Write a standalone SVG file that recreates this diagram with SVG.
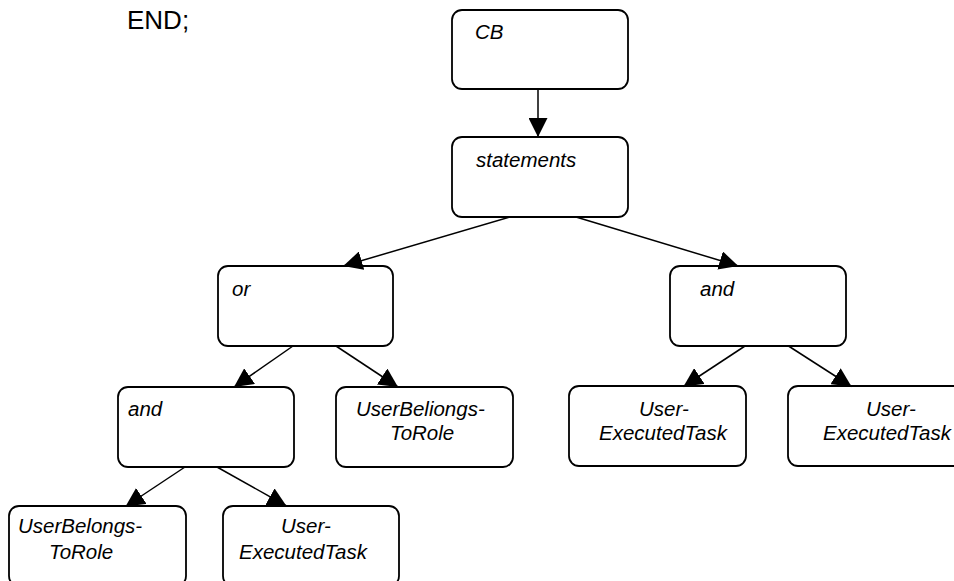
<svg xmlns="http://www.w3.org/2000/svg" width="954" height="581" viewBox="0 0 954 581">
  <style>
    .box { fill: #ffffff; stroke: #000000; stroke-width: 1.8; }
    .lbl { font-family: "Liberation Sans", Arial, sans-serif; font-size: 20.5px; font-style: italic; fill: #000000; }
    .end { font-family: "Liberation Sans", Arial, sans-serif; font-size: 26px; fill: #000000; }
    .edge { stroke: #000000; stroke-width: 1.5; fill: none; marker-end: url(#head); }
  </style>
  <defs>
    <marker id="head" markerUnits="userSpaceOnUse" markerWidth="19" markerHeight="19" viewBox="0 0 19 19" refX="19" refY="9.5" orient="auto">
      <path d="M0,0 L19,9.5 L0,19 Z" fill="#000000"/>
    </marker>
  </defs>
  <rect x="0" y="0" width="954" height="581" fill="#ffffff"/>

  <text class="end" x="127" y="28.5">END;</text>

  <!-- tree nodes -->
  <g id="node-cb">
    <rect class="box" x="452" y="10" width="176" height="79" rx="10"/>
    <text class="lbl" x="475" y="39">CB</text>
  </g>
  <g id="node-statements">
    <rect class="box" x="452" y="137" width="176" height="80" rx="10"/>
    <text class="lbl" x="476" y="166.5">statements</text>
  </g>
  <g id="node-or">
    <rect class="box" x="218" y="266" width="175" height="80" rx="10"/>
    <text class="lbl" x="232" y="295.5">or</text>
  </g>
  <g id="node-and-right">
    <rect class="box" x="670" y="266" width="176" height="80" rx="10"/>
    <text class="lbl" x="700" y="295.5">and</text>
  </g>
  <g id="node-and-left">
    <rect class="box" x="118" y="387" width="176" height="80" rx="10"/>
    <text class="lbl" x="128" y="415.5">and</text>
  </g>
  <g id="node-userbeliongs">
    <rect class="box" x="336" y="387" width="177" height="80" rx="10"/>
    <text class="lbl" x="356" y="416">UserBeliongs-</text>
    <text class="lbl" x="390" y="439.5">ToRole</text>
  </g>
  <g id="node-uet-1">
    <rect class="box" x="569" y="386" width="177" height="80" rx="10"/>
    <text class="lbl" x="639" y="416">User-</text>
    <text class="lbl" x="599" y="439.5">ExecutedTask</text>
  </g>
  <g id="node-uet-2">
    <rect class="box" x="788" y="386" width="177" height="80" rx="10"/>
    <text class="lbl" x="866" y="416">User-</text>
    <text class="lbl" x="823" y="439.5">ExecutedTask</text>
  </g>
  <g id="node-userbelongs">
    <rect class="box" x="9" y="506" width="177" height="80" rx="10"/>
    <text class="lbl" x="18" y="533">UserBelongs-</text>
    <text class="lbl" x="49" y="559">ToRole</text>
  </g>
  <g id="node-uet-3">
    <rect class="box" x="223" y="506" width="176" height="80" rx="10"/>
    <text class="lbl" x="281" y="533">User-</text>
    <text class="lbl" x="239" y="559">ExecutedTask</text>
  </g>

  <!-- parent-to-child edges, heads resting on the child's top border -->
  <g id="connectors">
    <line class="edge" x1="538" y1="89" x2="538" y2="137"/>
    <line class="edge" x1="510" y1="217" x2="343.3" y2="266"/>
    <line class="edge" x1="576" y1="217" x2="738.3" y2="266"/>
    <line class="edge" x1="293" y1="346" x2="234" y2="387"/>
    <line class="edge" x1="336" y1="346" x2="398" y2="387"/>
    <line class="edge" x1="185" y1="467" x2="125.5" y2="506.5"/>
    <line class="edge" x1="217" y1="467" x2="286.5" y2="506"/>
    <line class="edge" x1="745" y1="346" x2="683.5" y2="386.5"/>
    <line class="edge" x1="788.5" y1="346" x2="851.5" y2="386.5"/>
  </g>
</svg>
